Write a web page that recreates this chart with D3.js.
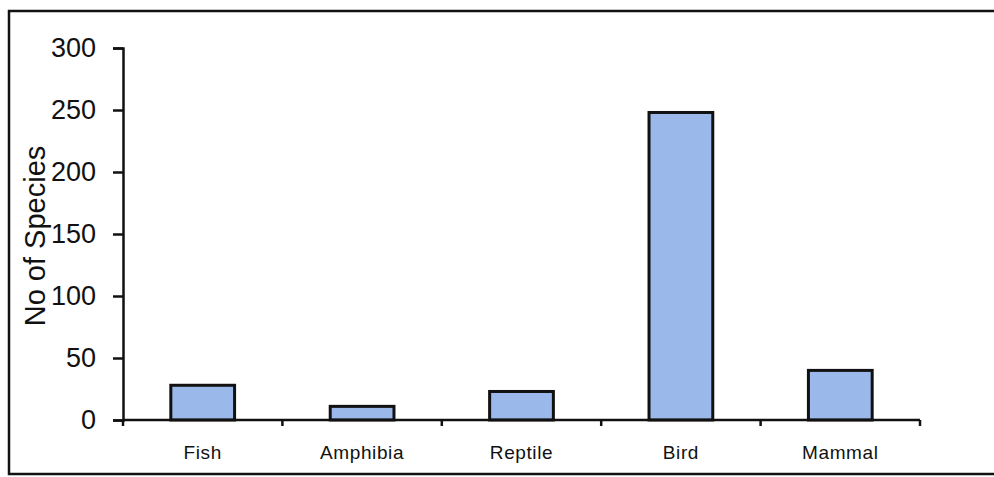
<!DOCTYPE html>
<html><head><meta charset="utf-8">
<script src="https://cdn.jsdelivr.net/npm/d3@7"></script>
<style>body{margin:0;background:#fff}svg{display:block}</style>
</head><body>
<script>
const categories = ["Fish","Amphibia","Reptile","Bird","Mammal"];
const values = [28, 11, 23, 248, 40];
const yTicks = [0,50,100,150,200,250,300];

const W = 994, H = 477;
const FONT = "Liberation Sans, Arial, sans-serif";
const svg = d3.select("body").append("svg").attr("width", W).attr("height", H);
svg.append("rect").attr("x", 9).attr("y", 11).attr("width", 1000).attr("height", 463)
  .attr("fill", "none").attr("stroke", "#111").attr("stroke-width", 2.5);

const x = d3.scaleBand().domain(categories).range([123, 920]).paddingInner(0.6).paddingOuter(0.3);
const y = d3.scaleLinear().domain([0, 300]).range([420, 48]);

svg.selectAll("rect.bar").data(values).join("rect").attr("class","bar")
  .attr("x", (d,i) => x(categories[i])).attr("width", x.bandwidth())
  .attr("y", d => y(d)).attr("height", d => y(0) - y(d))
  .attr("fill", "#9bb8ea").attr("stroke", "#111").attr("stroke-width", 3);

const yAxis = svg.append("g").attr("transform", "translate(123,0)")
  .call(d3.axisLeft(y).tickValues(yTicks).tickSize(10).tickPadding(17).tickFormat(d3.format("d")));
yAxis.select(".domain").attr("stroke", "#111").attr("stroke-width", 2.5);
yAxis.selectAll(".tick line").attr("stroke", "#111").attr("stroke-width", 2.5);
yAxis.selectAll("text").attr("font-family", FONT).attr("font-size", 27).attr("fill", "#111");

// x axis line and category boundary ticks
const xg = svg.append("g");
xg.append("line").attr("x1", 123).attr("x2", 920).attr("y1", y(0)).attr("y2", y(0))
  .attr("stroke", "#111").attr("stroke-width", 2.5);
const bounds = categories.map(c => x(c) - x.step() * x.paddingInner() / 2 ).concat([920]);
bounds[0] = 123;
xg.selectAll("line.tk").data(bounds).join("line").attr("class","tk")
  .attr("x1", d => d).attr("x2", d => d).attr("y1", y(0)).attr("y2", y(0) + 6)
  .attr("stroke", "#111").attr("stroke-width", 2.5);
xg.selectAll("text").data(categories).join("text")
  .attr("x", d => x(d) + x.bandwidth()/2).attr("y", 459)
  .attr("text-anchor", "middle").attr("font-family", FONT)
  .attr("font-size", 19).attr("letter-spacing", 0.6).attr("fill", "#111").text(d => d);

svg.append("text").attr("transform", "translate(45,236) rotate(-90)")
  .attr("text-anchor", "middle").attr("font-family", FONT)
  .attr("font-size", 29).attr("fill", "#111").text("No of Species");
</script>
</body></html>
